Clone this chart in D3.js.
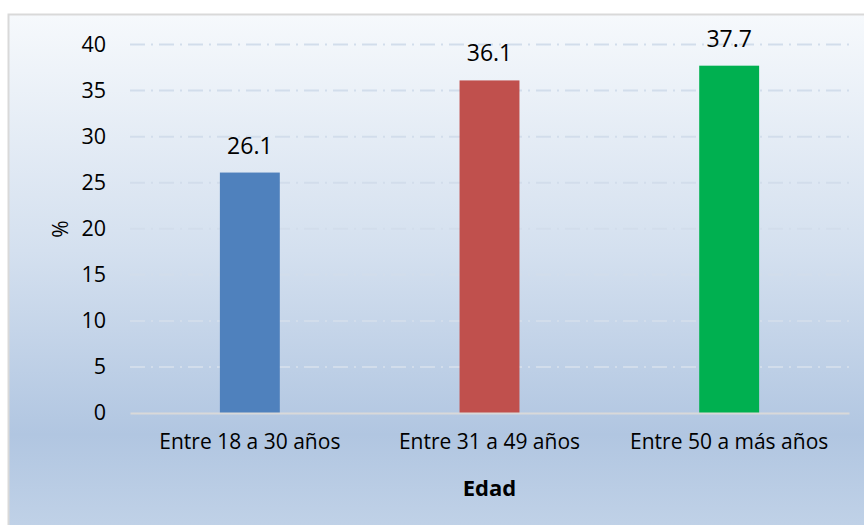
<!DOCTYPE html>
<html>
<head>
<meta charset="utf-8">
<script src="https://cdn.jsdelivr.net/npm/d3@7"></script>
<style>
  body { margin: 0; background: #fff; }
  text { font-family: "Open Sans", "Liberation Sans", sans-serif; fill: #000; }
</style>
</head>
<body>
<script>
// data
const categories = ["Entre 18 a 30 años", "Entre 31 a 49 años", "Entre 50 a más años"];
const values = [26.1, 36.1, 37.7];
const barColors = ["#4f81bd", "#c0504d", "#00b050"];
const yTicks = [0, 5, 10, 15, 20, 25, 30, 35, 40];

const w = 864, h = 525;
const plotLeft = 130, plotRight = 849, plotTop = 44.5, plotBottom = 413;

const svg = d3.select("body").append("svg")
  .attr("width", w)
  .attr("height", h);

// background gradient of the chart area
const grad = svg.append("defs").append("linearGradient")
  .attr("id", "bg")
  .attr("x1", 0).attr("y1", 0).attr("x2", 0).attr("y2", 1);
grad.append("stop").attr("offset", "0%").attr("stop-color", "#f6f9fc");
grad.append("stop").attr("offset", "45%").attr("stop-color", "#d4e0ef");
grad.append("stop").attr("offset", "80%").attr("stop-color", "#b1c6e1");
grad.append("stop").attr("offset", "100%").attr("stop-color", "#c2d3e8");

svg.append("rect")
  .attr("x", 8.5).attr("y", 14.5)
  .attr("width", w).attr("height", h)
  .attr("fill", "url(#bg)")
  .attr("stroke", "#d9d9d9")
  .attr("stroke-width", 2);

const x = d3.scaleBand()
  .domain(categories)
  .range([plotLeft, plotRight])
  .paddingInner(0.75)
  .paddingOuter(0.375);

const y = d3.scaleLinear()
  .domain([0, 40])
  .range([plotBottom, plotTop]);

// gridlines
svg.append("g")
  .selectAll("line")
  .data(yTicks.filter(d => d > 0))
  .join("line")
  .attr("x1", plotLeft).attr("x2", plotRight)
  .attr("y1", d => y(d)).attr("y2", d => y(d))
  .attr("stroke", "#d2ddeb")
  .attr("stroke-width", 2)
  .attr("stroke-dasharray", "15,6,2,6");

// y axis labels
const yAxis = svg.append("g")
  .attr("transform", `translate(${plotLeft},0)`)
  .call(d3.axisLeft(y).tickValues(yTicks).tickSize(0).tickPadding(24));
yAxis.select(".domain").remove();
yAxis.selectAll("text")
  .style("font-size", "21.5px")
  .style("font-family", '"Open Sans", sans-serif')
  .attr("fill", "#000");

// bars
svg.append("g")
  .selectAll("rect")
  .data(values)
  .join("rect")
  .attr("x", (d, i) => x(categories[i]))
  .attr("y", d => y(d))
  .attr("width", x.bandwidth())
  .attr("height", d => y(0) - y(d))
  .attr("fill", (d, i) => barColors[i]);

// value labels
svg.append("g")
  .selectAll("text")
  .data(values)
  .join("text")
  .attr("x", (d, i) => x(categories[i]) + x.bandwidth() / 2)
  .attr("y", d => y(d) - 19)
  .attr("text-anchor", "middle")
  .style("font-size", "23px")
  .text(d => d.toFixed(1));

// x axis
const xAxis = svg.append("g")
  .attr("transform", `translate(0,${plotBottom})`)
  .call(d3.axisBottom(x).tickSize(0).tickPadding(21));
xAxis.select(".domain")
  .attr("stroke", "#d9d9d9")
  .attr("stroke-width", 2);
xAxis.selectAll("text")
  .style("font-size", "21px")
  .style("font-family", '"Open Sans", sans-serif')
  .attr("fill", "#000");

// axis titles
svg.append("text")
  .attr("transform", "translate(68,229) rotate(-90)")
  .attr("text-anchor", "middle")
  .style("font-size", "21px")
  .text("%");

svg.append("text")
  .attr("x", (plotLeft + plotRight) / 2)
  .attr("y", 496)
  .attr("text-anchor", "middle")
  .style("font-size", "22px")
  .style("font-weight", "bold")
  .text("Edad");
</script>
</body>
</html>
